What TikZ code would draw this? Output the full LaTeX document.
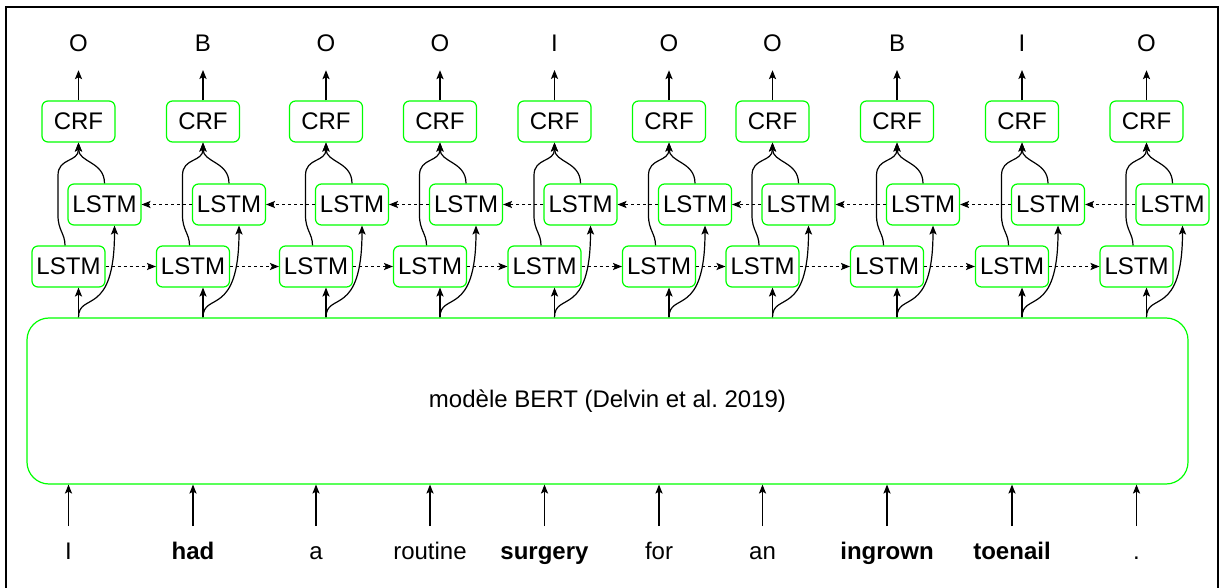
\documentclass[tikz,border=0pt]{standalone}
\usepackage{fontspec}
\setmainfont{Liberation Sans}
\usepackage{tikz}
\usepackage{xcolor}
\usetikzlibrary{arrows.meta,calc}
\definecolor{vert}{RGB}{0,255,0}
\tikzset{
Boite/.style={
 draw=vert, 
 line width=0.6pt, 
 rounded corners=3pt, 
 minimum width=36.5pt, 
 minimum height=20.5pt, 
 inner sep=0pt
 },
Fleche/.style={
 draw=black, 
 line width=0.6pt, 
 -{Stealth[length=4.5pt,width=3.6pt,inset=1pt]}
 },
Pointilles/.style={
 Fleche, 
 dash pattern=on 1.5pt off 1.5pt
 },
Sortie/.style={
 inner sep=0pt, 
 outer ysep=9pt
 },
Mot/.style={
 inner sep=0pt, 
 text height=9pt, 
 text depth=2.5pt, 
 outer ysep=7.5pt
 }
}
\begin{document}
\begin{tikzpicture}[x=0.5pt,y=-0.5pt,font=\fontsize{12}{14}\selectfont]
\useasboundingbox (0,0) rectangle (1221,588);
\draw[line width=0.75pt] (6,7) rectangle (1218,600);
\node[Boite,rounded corners=11pt,minimum width=580.5pt,minimum height=83pt] (bert) at (607.5,401) {modèle BERT (Delvin et al.\ 2019)};
\foreach \x/\etiq/\mot [count=\i] in {68.5/O/I, 193/B/\textbf{had}, 316/O/a, 430/O/routine, 544.5/I/\textbf{surgery}, 659/O/for, 762.5/O/an, 887/B/\textbf{ingrown}, 1012/I/\textbf{toenail}, 1136.5/O/.}{
 \node[Boite] (lo\i) at (\x,266.5) {LSTM};
 \node[Boite] (up\i) at (\x+36,204.5) {LSTM};
 \node[Boite] (crf\i) at (\x+10,121.5) {CRF};
 \node[Sortie,anchor=base] (out\i) at (\x+10,52) {\etiq};
 \node[Mot,anchor=base] (w\i) at (\x,559) {\mot};
 \draw[Fleche] (bert.north -| crf\i) -- (lo\i.south -| crf\i);
 \draw[Fleche] (bert.north -| crf\i) .. controls +(0,-26) and +(0,93) .. ($(up\i.south)+(10,0)$);
 \draw[Fleche] ($(lo\i.north)+(-3.5,0)$) .. controls +(0,-12) and +(0,15) .. ++(-7,-30) -- ++(0,-40) .. controls +(0,-18) and +(0,20) .. (crf\i.south);
 \draw[Fleche] (up\i.north) .. controls +(0,-22) and +(0,20) .. (crf\i.south);
 \draw[Fleche] (crf\i.north) -- (out\i.south);
 \draw[Fleche] (w\i.north) -- (bert.south -| w\i);
}
\foreach \i [remember=\i as \j (initially 1)] in {2,...,10}{
 \draw[Pointilles] (lo\j.east) -- (lo\i.west);
 \draw[Pointilles] (up\i.west) -- (up\j.east);
}
\end{tikzpicture}
\end{document}
